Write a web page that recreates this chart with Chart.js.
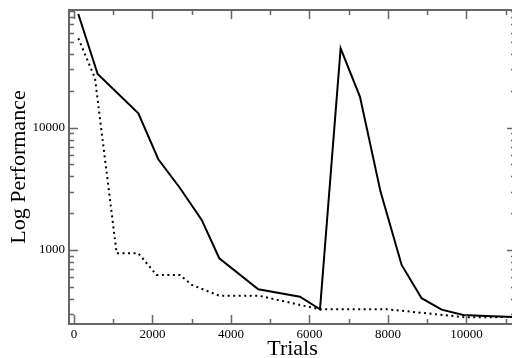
<!DOCTYPE html>
<html>
<head>
<meta charset="utf-8">
<script src="https://cdn.jsdelivr.net/npm/chart.js@4"></script>
<style>
  html, body { margin: 0; padding: 0; background: #fff; overflow: hidden; }
  #wrap { width: 516px; height: 362px; }
</style>
</head>
<body>
<div id="wrap"><canvas id="grafico"></canvas></div>
<script>
// trials (x) and performance (y) for the two runs
const solidTrials = [110, 603, 1640, 2148, 2700, 3254, 3702, 4696, 5758, 6268, 6794, 7287, 7810, 8348, 8857, 9366, 9918, 10500, 11200];
const solidPerf   = [85000, 27500, 13100, 5520, 3210, 1760, 855, 477, 415, 327, 44600, 17900, 3000, 754, 403, 325, 294, 288, 283];
const dotTrials = [110, 535, 1087, 1640, 2100, 2700, 3000, 3700, 4700, 6268, 7990, 9990, 11200];
const dotPerf   = [53800, 25400, 940, 940, 625, 625, 518, 423, 423, 327, 327, 281, 283];

const xTicks = [0, 1000, 2000, 3000, 4000, 5000, 6000, 7000, 8000, 9000, 10000, 11000];
const xLabels = [0, 2000, 4000, 6000, 8000, 10000];
const yTicks = [300, 400, 500, 600, 700, 800, 900, 1000, 2000, 3000, 4000, 5000, 6000, 7000, 8000, 9000,
                10000, 20000, 30000, 40000, 50000, 60000, 70000, 80000, 90000];
const yLabels = [1000, 10000];

const frameColor = "#666";

function pares(xs, ys) {
    return xs.map((x, i) => ({ x: x, y: ys[i] }));
}

// inward tick marks on all four sides plus the box
const molduraPlugin = {
    id: "moldura",
    afterDraw(chart) {
        const ctx = chart.ctx;
        const a = chart.chartArea;
        const sx = chart.scales.x;
        const sy = chart.scales.y;
        ctx.save();
        ctx.strokeStyle = frameColor;
        ctx.lineWidth = 1.5;
        xTicks.forEach(v => {
            const px = Math.round(sx.getPixelForValue(v)) + 0.5;
            const len = v % 2000 === 0 ? 9 : 5;
            ctx.beginPath();
            ctx.moveTo(px, a.bottom); ctx.lineTo(px, a.bottom - len);
            ctx.moveTo(px, a.top); ctx.lineTo(px, a.top + len);
            ctx.stroke();
        });
        yTicks.forEach(v => {
            const py = Math.round(sy.getPixelForValue(v)) + 0.5;
            const len = yLabels.includes(v) ? 9 : 5;
            ctx.beginPath();
            ctx.moveTo(a.left, py); ctx.lineTo(a.left + len, py);
            ctx.moveTo(a.right, py); ctx.lineTo(a.right - len, py);
            ctx.stroke();
        });
        ctx.lineWidth = 2;
        ctx.strokeRect(a.left, a.top, a.right - a.left, a.bottom - a.top);
        ctx.restore();
    }
};

const ctx = document.getElementById("grafico").getContext("2d");

new Chart(ctx, {
    type: "line",
    data: {
        datasets: [{
            data: pares(solidTrials, solidPerf),
            borderColor: "#000",
            borderWidth: 2,
            pointRadius: 0,
            tension: 0
        }, {
            data: pares(dotTrials, dotPerf),
            borderColor: "#000",
            borderWidth: 2,
            borderDash: [2, 3.5],
            pointRadius: 0,
            tension: 0
        }]
    },
    options: {
        responsive: true,
        maintainAspectRatio: false,
        animation: false,
        layout: { padding: { top: 10, left: 6, right: 0, bottom: 0 } },
        plugins: {
            legend: { display: false },
            tooltip: { enabled: false }
        },
        scales: {
            x: {
                type: "linear",
                min: -127,
                max: 11262,
                afterBuildTicks: scale => { scale.ticks = xTicks.map(v => ({ value: v })); },
                afterFit: scale => {
                    scale.height = 38;
                    scale.paddingLeft = 0;
                    scale.paddingRight = 0;
                },
                grid: { display: false, drawTicks: false },
                border: { display: false },
                ticks: {
                    padding: 3,
                    maxRotation: 0,
                    autoSkip: false,
                    color: "#000",
                    font: { family: "Liberation Serif", size: 13 },
                    callback: v => xLabels.includes(v) ? String(v) : ""
                },
                title: {
                    display: true,
                    text: "Trials",
                    color: "#000",
                    font: { family: "Liberation Serif", size: 22 },
                    padding: { top: 0, bottom: 0 }
                }
            },
            y: {
                type: "logarithmic",
                min: 248,
                max: 91700,
                afterBuildTicks: scale => { scale.ticks = yTicks.map(v => ({ value: v })); },
                afterFit: scale => {
                    scale.width = 63;
                    scale.paddingTop = 0;
                    scale.paddingBottom = 0;
                },
                grid: { display: false, drawTicks: false },
                border: { display: false },
                ticks: {
                    padding: 4,
                    autoSkip: false,
                    color: "#000",
                    font: { family: "Liberation Serif", size: 13 },
                    callback: v => yLabels.includes(v) ? String(v) : ""
                },
                title: {
                    display: true,
                    text: "Log Performance",
                    color: "#000",
                    font: { family: "Liberation Serif", size: 22 },
                    padding: { top: 0, bottom: 0 }
                }
            }
        }
    },
    plugins: [molduraPlugin]
});
</script>
</body>
</html>
